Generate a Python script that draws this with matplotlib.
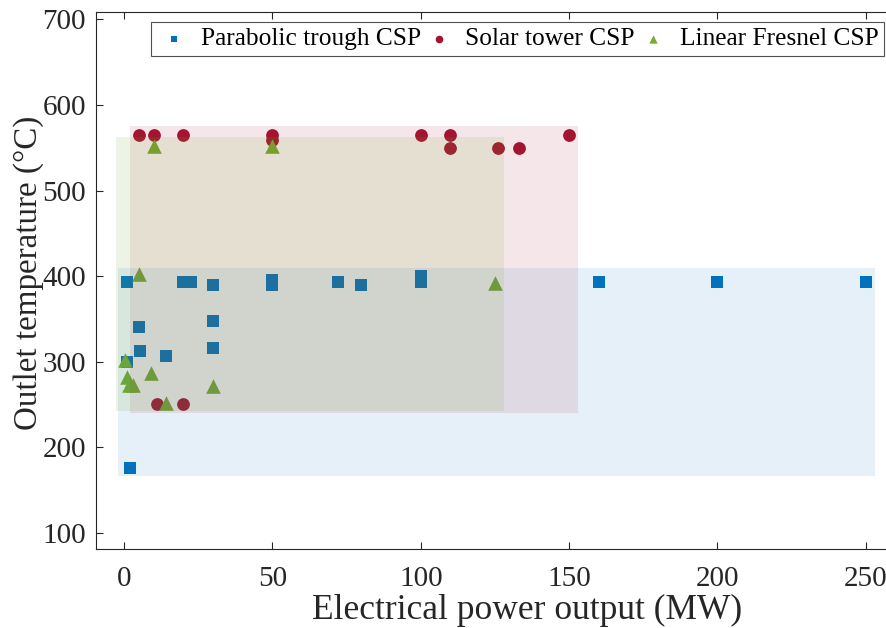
import matplotlib
matplotlib.use("Agg")
import matplotlib.pyplot as plt
from matplotlib.patches import Rectangle

plt.rcParams["font.family"] = ["Liberation Serif", "DejaVu Serif"]

# Parabolic trough plants
trough_mw = [1, 1, 2, 5, 5.5, 14, 20, 22.5, 30, 30, 30, 50, 50, 72, 80, 100, 100, 160, 200, 250]
trough_t = [393, 299, 176, 340, 312, 307, 393, 393, 390, 348, 316, 390, 395, 393, 390, 393, 400, 393, 393, 393]

# Solar tower plants
tower_mw = [5, 10, 20, 50, 50, 100, 110, 110, 126, 133, 150, 11, 20]
tower_t = [565, 565, 565, 565, 559, 565, 565, 550, 550, 550, 565, 250, 250]

# Linear Fresnel plants
fresnel_mw = [10, 50, 5, 0.3, 1, 1.5, 3, 9, 30, 14, 125]
fresnel_t = [552, 552, 402, 302, 282, 273, 273, 287, 272, 252, 392]

blue = "#0072BD"
red = "#A2142F"
green = "#77AC30"

fig = plt.figure(figsize=(8.87, 6.28), dpi=100)
ax = fig.add_axes([0.1079, 0.1258, 0.8948, 0.8556])

ax.scatter(trough_mw, trough_t, marker="s", s=8**2, color=blue, linewidths=0, zorder=2)
ax.scatter(tower_mw, tower_t, marker="o", s=9.2**2, color=red, linewidths=0, zorder=2)
ax.scatter(fresnel_mw, fresnel_t, marker="^", s=10.5**2, color=green, linewidths=0, zorder=2)

# shaded range of each technology (data extent plus a small margin)
pad_x, pad_y = 3, 10
for xs, ys, c, a in [(trough_mw, trough_t, blue, 0.10),
                     (tower_mw, tower_t, red, 0.10),
                     (fresnel_mw, fresnel_t, green, 0.12)]:
    x0, x1 = min(xs) - pad_x, max(xs) + pad_x
    y0, y1 = min(ys) - pad_y, max(ys) + pad_y
    ax.add_patch(Rectangle((x0, y0), x1 - x0, y1 - y0, facecolor=c,
                           alpha=a, edgecolor="none", zorder=3))

# legend handles with small markers
h1 = ax.scatter([], [], marker="s", s=5**2, color=blue, linewidths=0)
h2 = ax.scatter([], [], marker="o", s=5.5**2, color=red, linewidths=0)
h3 = ax.scatter([], [], marker="^", s=6**2, color=green, linewidths=0)
leg = ax.legend([h1, h2, h3], ["Parabolic trough CSP", "Solar tower CSP", "Linear Fresnel CSP"],
                loc="upper right", bbox_to_anchor=(0.9932, 0.9808), borderaxespad=0,
                ncol=3, fontsize=18.3, frameon=True, fancybox=False, handlelength=1.4,
                handletextpad=0.33, columnspacing=0.03, borderpad=0.22)
leg.get_frame().set_edgecolor("#262626")
leg.get_frame().set_linewidth(0.8)
leg.set_zorder(5)

ax.set_xlim(-9.6, 258)
ax.set_ylim(81, 709)
ax.set_xticks([0, 50, 100, 150, 200, 250])
ax.set_yticks([100, 200, 300, 400, 500, 600, 700])
ax.tick_params(direction="in", length=5, width=0.8, colors="#262626",
               labelsize=21, top=True, right=False)
ax.tick_params(axis="x", pad=12)
ax.tick_params(axis="y", pad=7)
for sp in ax.spines.values():
    sp.set_color("#262626")
    sp.set_linewidth(0.8)

ax.set_xlabel("Electrical power output (MW)", fontsize=25.5, color="#262626", labelpad=2)
ax.set_ylabel("Outlet temperature (°C)", fontsize=23.8, color="#262626", labelpad=-1)
ax.xaxis.label.set_x(0.543)
ax.yaxis.label.set_y(0.514)

fig.savefig("out.png", dpi=100)
